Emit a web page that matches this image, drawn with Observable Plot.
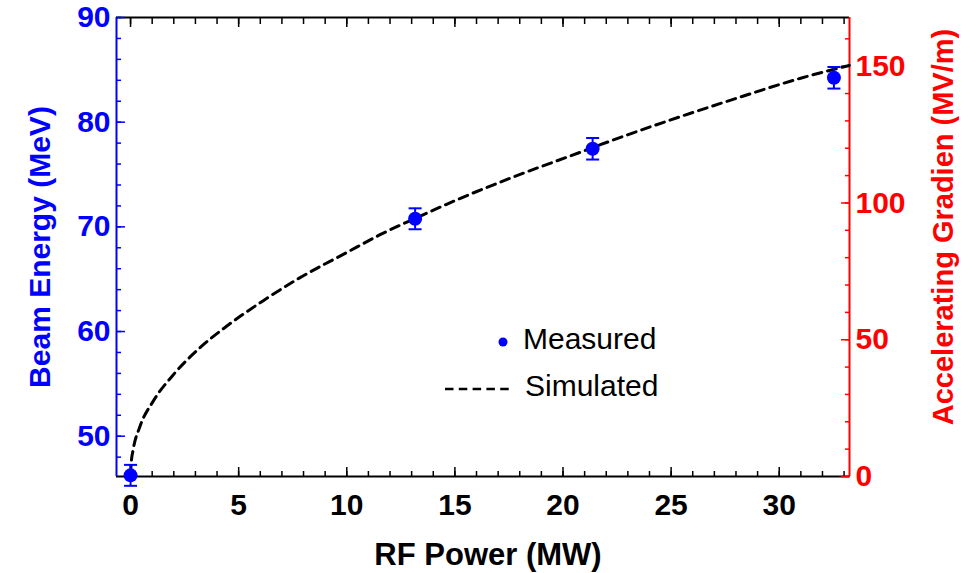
<!DOCTYPE html>
<html>
<head>
<meta charset="utf-8">
<script src="https://cdn.jsdelivr.net/npm/d3@7"></script>
<script src="https://cdn.jsdelivr.net/npm/@observablehq/plot@0.6"></script>
<style>
  html, body { margin: 0; padding: 0; background: #fff; }
  #chart { width: 980px; height: 573px; }
</style>
</head>
<body>
<div id="chart"></div>
<script>
// ---- data ----
const measuredPower = [0, 13.16, 21.37, 32.53];          // MW
const measuredEnergy = [46.26, 70.77, 77.46, 84.24];     // MeV
const measuredError = [1.0, 1.0, 1.03, 1.03];            // MeV

const simPower  = [0, 0.03, 0.12, 0.43, 1.05, 1.97, 3.21, 4.44, 6.14, 7.8, 10.0, 11.54, 13.24, 15.0, 17.5, 20.8, 21.73, 24.81, 27.9, 30.99, 33.24];
const simEnergy = [46.26, 47.45, 48.7, 50.9, 53.35, 55.85, 58.45, 60.5, 62.95, 65.1, 67.55, 69.25, 70.88, 72.5, 74.6, 77.13, 77.85, 80.1, 82.2, 84.2, 85.42];

const xTicks = [0, 5, 10, 15, 20, 25, 30];
const xMinorTicks = d3.range(0, 34, 1);
const yTicks = [50, 60, 70, 80, 90];
const yMinorTicks = d3.range(48, 91, 2);
const gradTicks = [0, 50, 100, 150];
const gradMinorTicks = d3.range(0, 170, 10);

const xDomain = [-0.65, 33.25];
const yDomain = [46.15, 90];
const gradDomain = [0, 167.8];

const legendLabels = ["Measured", "Simulated"];
const xLabel = "RF Power (MW)";
const yLabel = "Beam Energy (MeV)";
const y2Label = "Accelerating Gradien (MV/m)";

// ---- build ----
const measured = measuredPower.map((p, i) => ({p, e: measuredEnergy[i], err: measuredError[i]}));
const sim = simPower.map((p, i) => ({p, e: simEnergy[i]}));
const toE = g => yDomain[0] + (g - gradDomain[0]) * (yDomain[1] - yDomain[0]) / (gradDomain[1] - gradDomain[0]);
const toG = e => gradDomain[0] + (e - yDomain[0]) * (gradDomain[1] - gradDomain[0]) / (yDomain[1] - yDomain[0]);

const BLUE = "#0000ff", RED = "#ff0000", BLACK = "#000000";
const capSymbol = {draw(ctx, size) { const w = Math.sqrt(size / Math.PI); ctx.moveTo(-w, 0); ctx.lineTo(w, 0); }};
const font = "'Liberation Sans', Arial, Helvetica, sans-serif";

const svg = Plot.plot({
  width: 980,
  height: 573,
  marginLeft: 116,
  marginRight: 131,
  marginTop: 17,
  marginBottom: 97,
  style: {fontFamily: font, background: "#fff", overflow: "visible"},
  x: {domain: xDomain},
  y: {domain: yDomain},
  marks: [
    // frame lines
    Plot.ruleY([yDomain[0]], {stroke: BLACK, strokeWidth: 2}),
    Plot.ruleY([yDomain[1]], {stroke: BLACK, strokeWidth: 2}),
    Plot.ruleX([xDomain[0]], {stroke: BLUE, strokeWidth: 2}),
    Plot.ruleX([xDomain[1]], {stroke: RED, strokeWidth: 2}),

    // bottom axis
    Plot.axisX({anchor: "bottom", ticks: xMinorTicks, tickSize: -5, tickFormat: () => "", color: BLACK, strokeWidth: 1.5, label: null}),
    Plot.axisX({anchor: "bottom", ticks: xTicks, tickSize: -9, tickFormat: () => "", color: BLACK, strokeWidth: 1.5, label: null}),
    Plot.axisX({anchor: "bottom", ticks: xTicks, tickSize: 0, tickPadding: 17, color: BLACK, fontSize: 30, fontWeight: "bold", label: null}),
    // top axis
    Plot.axisX({anchor: "top", ticks: xMinorTicks, tickSize: -6, tickFormat: () => "", color: BLACK, strokeWidth: 1.5, label: null}),
    Plot.axisX({anchor: "top", ticks: xTicks, tickSize: -9, tickFormat: () => "", color: BLACK, strokeWidth: 1.5, label: null}),

    // left axis
    Plot.axisY({anchor: "left", ticks: yMinorTicks, tickSize: -5, tickFormat: () => "", color: BLUE, strokeWidth: 1.5, label: null}),
    Plot.axisY({anchor: "left", ticks: yTicks, tickSize: -9, tickFormat: () => "", color: BLUE, strokeWidth: 1.5, label: null}),
    Plot.axisY({anchor: "left", ticks: yTicks, tickSize: 0, tickPadding: 6, color: BLUE, fontSize: 30, fontWeight: "bold", label: null}),

    // right axis (gradient)
    Plot.axisY({anchor: "right", ticks: gradMinorTicks.map(toE), tickSize: -5, tickFormat: () => "", color: RED, strokeWidth: 1.5, label: null}),
    Plot.axisY({anchor: "right", ticks: gradTicks.map(toE), tickSize: -9, tickFormat: () => "", color: RED, strokeWidth: 1.5, label: null}),
    Plot.axisY({anchor: "right", ticks: gradTicks.map(toE), tickSize: 0, tickPadding: 6, color: RED, fontSize: 30, fontWeight: "bold", label: null,
      tickFormat: d => String(Math.round(toG(d)))}),

    // axis titles
    Plot.text([yLabel], {frameAnchor: "left", textAnchor: "middle", lineAnchor: "middle", rotate: -90, dx: -76, fill: BLUE, fontSize: 30, fontWeight: "bold", text: d => d}),
    Plot.text([y2Label], {frameAnchor: "right", textAnchor: "middle", lineAnchor: "middle", rotate: -90, dx: 94, dy: -20, fill: RED, fontSize: 29, fontWeight: "bold", text: d => d}),
    Plot.text([xLabel], {frameAnchor: "bottom", textAnchor: "middle", lineAnchor: "middle", dx: 5, dy: 79, fill: BLACK, fontSize: 31, fontWeight: "bold", text: d => d}),

    // simulated curve
    Plot.line(sim, {x: "p", y: "e", stroke: BLACK, strokeWidth: 3, strokeDasharray: "9,6", curve: "monotone-x"}),

    // measured points with error bars
    Plot.ruleX(measured, {x: "p", y1: d => d.e - d.err, y2: d => d.e + d.err, stroke: BLUE, strokeWidth: 2}),
    Plot.dot(measured, {x: "p", y: d => d.e - d.err, symbol: capSymbol, r: 6.5, stroke: BLUE, strokeWidth: 2, fill: "none"}),
    Plot.dot(measured, {x: "p", y: d => d.e + d.err, symbol: capSymbol, r: 6.5, stroke: BLUE, strokeWidth: 2, fill: "none"}),
    Plot.dot(measured, {x: "p", y: "e", r: 7, fill: BLUE})
  ]
});

// legend
const g = d3.select(svg).append("g")
  .attr("font-family", font).attr("font-size", 30).attr("fill", BLACK).attr("text-anchor", "start");
g.append("circle").attr("cx", 503).attr("cy", 342).attr("r", 4.5).attr("fill", BLUE);
g.append("text").attr("x", 523).attr("y", 349).attr("text-anchor", "start").text(legendLabels[0]);
g.append("line").attr("x1", 445).attr("x2", 511).attr("y1", 389).attr("y2", 389)
  .attr("stroke", BLACK).attr("stroke-width", 2.5).attr("stroke-dasharray", "8.5,5.3");
g.append("text").attr("x", 525).attr("y", 396).attr("text-anchor", "start").text(legendLabels[1]);

document.getElementById("chart").appendChild(svg);
</script>
</body>
</html>
